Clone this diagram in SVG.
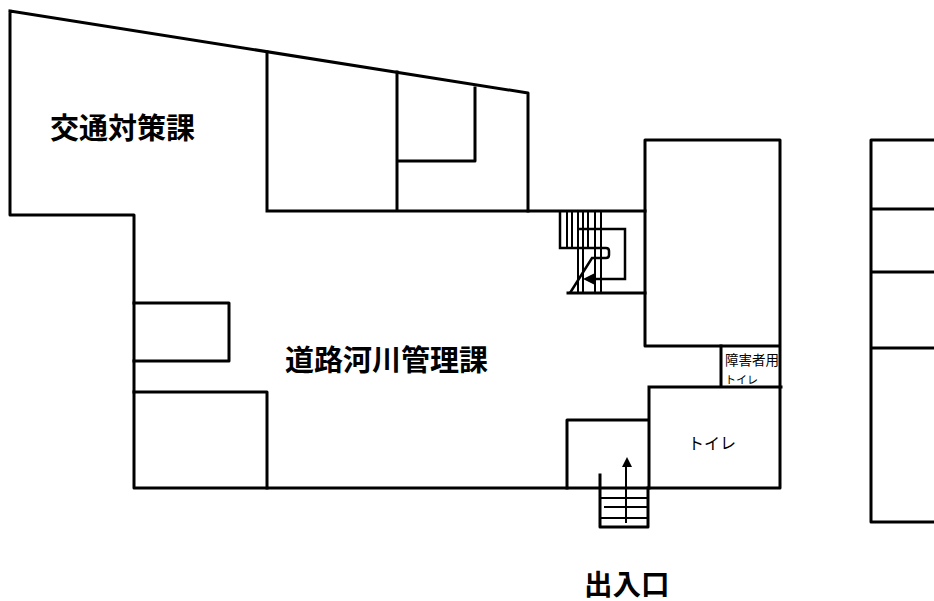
<svg xmlns="http://www.w3.org/2000/svg" width="934" height="601" viewBox="0 0 934 601">
<style>
.w{fill:none;stroke:#000;stroke-width:3;stroke-linejoin:round;stroke-linecap:square}
.t{fill:none;stroke:#000;stroke-width:2}
.m{fill:none;stroke:#000;stroke-width:2.5}
text{font-family:"Liberation Sans","Noto Sans CJK JP",sans-serif;fill:#000}
.b{font-size:29px;font-weight:bold}
</style>
<rect width="934" height="601" fill="#fff"/>
<g id="walls">
<path class="w" d="M10 11L528 93V211M10 11V215H134V488H780V140H645V346H780"/>
<path class="w" d="M267 52V211M397 72V211M267 211H645M475 88V161H397"/>
<path class="w" d="M134 303H229V361H134M134 392H267V488"/>
<path class="w" d="M568 293H645M721 346V386M649 387H781M649 387V488M567 488V420H649"/>
<path class="w" d="M934 140H871V522H934M871 209H934M871 272H934M871 348H934"/>
</g>
<g id="stairs-upper">
<path class="t" d="M567 211V248M572 211V248M578 211V293M583 211V293M588 211V248M595 211V293M601 211V293"/>
<path class="m" d="M560 211V248H606Q609 248 609 251V255Q609 258 606 258H592L570 293"/>
<path class="m" d="M577 229H625V279H590"/>
<path d="M583 279L595 273V285Z" fill="#000"/>
</g>
<g id="stairs-entrance">
<path class="w" d="M600 475V527H648V488"/>
<path class="t" d="M600 498H648M604 507H648M600 518H648"/>
<path class="t" d="M626 523V466"/>
<path d="M627 457L632 467H622Z" fill="#000"/>
</g>
<g id="labels">
<text class="b" x="50" y="139">交通対策課</text>
<text class="b" x="285" y="371">道路河川管理課</text>
<text class="b" x="584" y="595" style="font-size:28.5px">出入口</text>
<text x="688" y="449" font-size="16" fill="#222">トイレ</text>
<text x="725" y="365" font-size="13.5" fill="#222">障害者用</text>
<text x="725" y="384" font-size="11" fill="#222">トイレ</text>
</g>
</svg>
